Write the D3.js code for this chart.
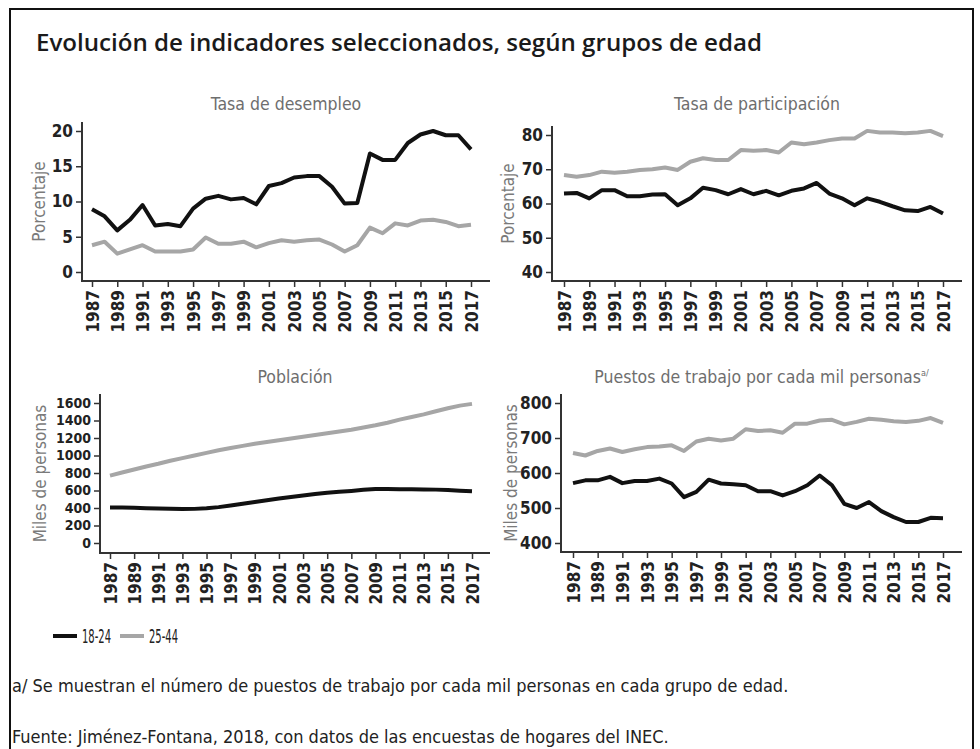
<!DOCTYPE html>
<html>
<head>
<meta charset="utf-8">
<script src="https://cdn.jsdelivr.net/npm/d3@7"></script>
<style>
body { margin: 0; background: #fff; }
svg text { font-family: "DejaVu Sans Condensed", "DejaVu Sans", sans-serif; }
</style>
</head>
<body>
<svg id="svg" width="980" height="749"></svg>
<script>
var years = [1987, 1988, 1989, 1990, 1991, 1992, 1993, 1994, 1995, 1996, 1997, 1998, 1999, 2000, 2001,
    2002, 2003, 2004, 2005, 2006, 2007, 2008, 2009, 2010, 2011, 2012, 2013, 2014, 2015, 2016, 2017];
var yearTicks = [1987, 1989, 1991, 1993, 1995, 1997, 1999, 2001, 2003, 2005, 2007, 2009, 2011, 2013, 2015, 2017];
var groups = ['18-24', '25-44'];

var desempleo1824 = [8.9, 7.9, 5.9, 7.4, 9.5, 6.6, 6.8, 6.5, 9.0, 10.4, 10.8, 10.3, 10.5, 9.6, 12.2,
    12.6, 13.4, 13.6, 13.6, 12.1, 9.7, 9.8, 16.8, 15.9, 15.9, 18.3, 19.5, 20.0, 19.4, 19.4, 17.4];
var desempleo2544 = [3.8, 4.3, 2.6, 3.2, 3.8, 2.9, 2.9, 2.9, 3.2, 4.9, 4.0, 4.0, 4.3, 3.5, 4.1,
    4.5, 4.3, 4.5, 4.6, 3.9, 2.9, 3.8, 6.3, 5.5, 6.9, 6.6, 7.3, 7.4, 7.1, 6.5, 6.7];

var participacion1824 = [62.9, 63.1, 61.5, 63.9, 63.9, 62.1, 62.1, 62.6, 62.7, 59.5, 61.5, 64.6, 63.9, 62.7, 64.2,
    62.7, 63.7, 62.4, 63.7, 64.4, 66.0, 62.9, 61.5, 59.5, 61.5, 60.5, 59.2, 58.0, 57.8, 59.0, 57.1];
var participacion2544 = [68.3, 67.8, 68.3, 69.3, 69.0, 69.3, 69.8, 70.0, 70.5, 69.8, 72.2, 73.2, 72.7, 72.7, 75.6,
    75.4, 75.6, 74.9, 77.8, 77.3, 77.8, 78.5, 79.0, 79.0, 81.2, 80.7, 80.7, 80.5, 80.7, 81.2, 79.7];

var poblacion1824 = [405, 405, 402, 398, 395, 392, 388, 390, 398, 410, 428, 448, 468, 488, 508,
    525, 542, 560, 575, 585, 595, 608, 618, 618, 615, 613, 612, 610, 605, 598, 592];
var poblacion2544 = [770, 805, 840, 875, 905, 940, 970, 1000, 1030, 1060, 1085, 1110, 1135, 1155, 1175,
    1195, 1215, 1235, 1255, 1275, 1295, 1320, 1345, 1375, 1410, 1440, 1470, 1505, 1540, 1570, 1590];

var puestos1824 = [571, 579, 579, 589, 571, 577, 577, 584, 570, 531, 546, 581, 570, 568, 565,
    548, 548, 536, 548, 565, 593, 565, 512, 500, 517, 491, 474, 460, 460, 472, 471];
var puestos2544 = [657, 650, 663, 670, 660, 668, 674, 676, 679, 663, 690, 698, 693, 698, 725,
    720, 722, 715, 741, 741, 750, 752, 739, 746, 755, 752, 748, 746, 749, 757, 743];

var colorScale = d3.scaleOrdinal().domain(groups).range(['#111111', '#a6a6a6']);

var svg = d3.select('#svg');

// marco
svg.append('rect')
    .attr('x', 10).attr('y', 9)
    .attr('width', 963).attr('height', 760)
    .attr('fill', 'none')
    .attr('stroke', '#111').attr('stroke-width', 2);

svg.append('text')
    .attr('x', 36).attr('y', 51)
    .style('font-family', '"Open Sans", sans-serif')
    .style('font-weight', 600)
    .style('font-size', '24px')
    .attr('textLength', 726)
    .attr('lengthAdjust', 'spacingAndGlyphs')
    .attr('fill', '#1a1a1a')
    .text('Evolución de indicadores seleccionados, según grupos de edad');

function drawPanel(p) {
    var g = svg.append('g');
    var x = d3.scaleLinear().domain([1987, 2017]).range([p.x0, p.x1]);
    var y = d3.scaleLinear().domain([p.ticks[0], p.ticks[p.ticks.length - 1]]).range([p.yBottom, p.yTop]);

    // ejes
    var yAxis = g.append('g')
        .attr('transform', 'translate(' + p.left + ',0)')
        .call(d3.axisLeft(y).tickValues(p.ticks).tickFormat(d3.format('d'))
            .tickSize(6).tickPadding(3).tickSizeOuter(0));
    yAxis.select('.domain').remove();
    yAxis.selectAll('line').attr('stroke', '#333').attr('stroke-width', 1.5);
    yAxis.selectAll('text')
        .style('font-size', p.tickFont + 'px')
        .style('font-weight', 'bold')
        .attr('fill', '#222');

    var xAxis = g.append('g')
        .attr('transform', 'translate(0,' + p.bottom + ')')
        .call(d3.axisBottom(x).tickValues(yearTicks).tickFormat(d3.format('d')).tickSize(6).tickSizeOuter(0));
    xAxis.select('.domain').remove();
    xAxis.selectAll('line').attr('stroke', '#333').attr('stroke-width', 1.5);
    xAxis.selectAll('text')
        .attr('transform', 'rotate(-90)')
        .attr('text-anchor', 'end')
        .attr('x', -9).attr('y', 0).attr('dy', '0.36em')
        .style('font-size', '17px')
        .style('font-weight', 'bold')
        .attr('fill', '#222');

    g.append('path')
        .attr('d', 'M' + p.left + ',' + (p.yTop - 9) + 'V' + p.bottom + 'H' + p.xEnd)
        .attr('fill', 'none')
        .attr('stroke', '#333')
        .attr('stroke-width', 2);

    var line = d3.line()
        .x(function(d, i) { return x(years[i]); })
        .y(function(d) { return y(d); });

    g.selectAll('path.serie')
        .data([{ k: '25-44', v: p.series[1] }, { k: '18-24', v: p.series[0] }])
        .enter().append('path')
        .attr('class', 'serie')
        .attr('d', function(d) { return line(d.v); })
        .attr('fill', 'none')
        .attr('stroke', function(d) { return colorScale(d.k); })
        .attr('stroke-width', 4)
        .attr('stroke-linejoin', 'round');

    var t = g.append('text')
        .attr('x', (p.left + p.xEnd) / 2).attr('y', p.titleY)
        .attr('text-anchor', 'middle')
        .style('font-size', '17.5px')
        .attr('fill', '#6e6e6e')
        .text(p.title);
    if (p.sup) {
        t.append('tspan').attr('dy', -7).style('font-size', '9px').text(p.sup);
    }

    g.append('text')
        .attr('transform', 'translate(' + p.ylabX + ',' + ((p.yTop - 9 + p.bottom) / 2) + ') rotate(-90)')
        .attr('text-anchor', 'middle')
        .style('font-size', '17px')
        .attr('fill', '#7a7a7a')
        .text(p.ylabel);
}

drawPanel({
    title: 'Tasa de desempleo', ylabel: 'Porcentaje', series: [desempleo1824, desempleo2544],
    ticks: [0, 5, 10, 15, 20], left: 82, x0: 92, x1: 471, xEnd: 490,
    yBottom: 272, yTop: 131, bottom: 281, titleY: 110, ylabX: 45, tickFont: 17
});
drawPanel({
    title: 'Tasa de participación', ylabel: 'Porcentaje', series: [participacion1824, participacion2544],
    ticks: [40, 50, 60, 70, 80], left: 552, x0: 564, x1: 943, xEnd: 962,
    yBottom: 272, yTop: 135, bottom: 281, titleY: 110, ylabX: 514, tickFont: 17
});
drawPanel({
    title: 'Población', ylabel: 'Miles de personas', series: [poblacion1824, poblacion2544],
    ticks: [0, 200, 400, 600, 800, 1000, 1200, 1400, 1600], left: 100, x0: 110, x1: 472, xEnd: 490,
    yBottom: 543, yTop: 403, bottom: 553, titleY: 383, ylabX: 46, tickFont: 14
});
drawPanel({
    title: 'Puestos de trabajo por cada mil personas', sup: 'a/', ylabel: 'Miles de personas',
    series: [puestos1824, puestos2544],
    ticks: [400, 500, 600, 700, 800], left: 561, x0: 573, x1: 943, xEnd: 962,
    yBottom: 543, yTop: 403, bottom: 552, titleY: 383, ylabX: 517, tickFont: 17
});

// leyenda
var leg = svg.append('g').attr('transform', 'translate(53,636)');
var legItems = leg.selectAll('g').data(groups).enter().append('g')
    .attr('transform', function(d, i) { return 'translate(' + (i * 67) + ',0)'; });
legItems.append('line')
    .attr('x1', 0).attr('x2', 24)
    .attr('stroke', function(d) { return colorScale(d); })
    .attr('stroke-width', 4);
legItems.append('text')
    .attr('x', 29).attr('dy', '0.36em')
    .style('font-size', '19px')
    .attr('textLength', 29)
    .attr('lengthAdjust', 'spacingAndGlyphs')
    .attr('fill', '#222')
    .text(function(d) { return d; });

svg.append('text')
    .attr('x', 12).attr('y', 692)
    .style('font-size', '18px')
    .attr('fill', '#222')
    .text('a/ Se muestran el número de puestos de trabajo por cada mil personas en cada grupo de edad.');

svg.append('text')
    .attr('x', 12).attr('y', 743)
    .style('font-size', '18px')
    .attr('fill', '#222')
    .text('Fuente: Jiménez-Fontana, 2018, con datos de las encuestas de hogares del INEC.');
</script>
</body>
</html>
